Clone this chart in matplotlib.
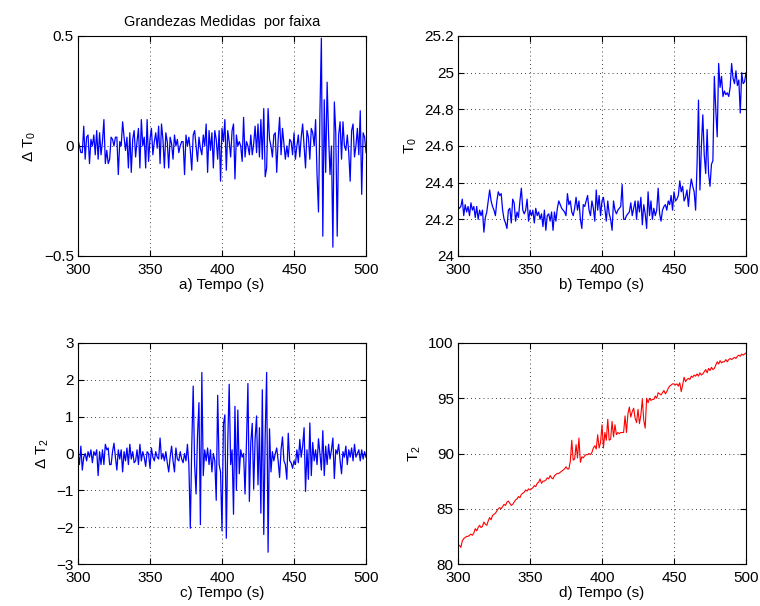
import numpy as np
import matplotlib
matplotlib.use("Agg")
import matplotlib.pyplot as plt

plt.rcParams['font.family'] = ['Liberation Sans', 'DejaVu Sans']
plt.rcParams['font.size'] = 11
plt.rcParams['mathtext.default'] = 'regular'
plt.rcParams['mathtext.fontset'] = 'custom'
plt.rcParams['mathtext.rm'] = 'Liberation Sans'

# tempo (s), 1 amostra por segundo
tempo = np.arange(300, 501)

# a) variacao de T0
dT0 = [0.03, 0.0, -0.03, -0.03, 0.09, -0.06, 0.04, 0.05, -0.08, 0.03,
       0.0, 0.05, -0.04, 0.07, -0.06, 0.06, -0.04, 0.02, 0.12, -0.08,
       -0.02, -0.08, -0.06, 0.04, 0.03, 0.0, 0.04, 0.04, -0.13, 0.02,
       0.0, 0.11, 0.04, -0.02, 0.04, -0.1, 0.06, -0.12, 0.03, 0.07,
       -0.05, 0.02, 0.08, -0.1, 0.12, 0.0, 0.04, -0.1, 0.12, -0.07,
       0.03, 0.08, -0.04, 0.02, 0.06, -0.01, 0.09, -0.08, 0.1, 0.03,
       -0.1, 0.06, 0.02, -0.1, 0.04, 0.01, -0.06, 0.05, 0.0, 0.03,
       -0.03, 0.0, 0.02, 0.02, -0.13, 0.05, 0.0, 0.04, -0.02, -0.11,
       0.05, 0.07, 0.0, -0.07, 0.04, -0.01, -0.04, 0.05, 0.0, 0.1,
       -0.12, 0.07, -0.02, 0.06, -0.1, 0.07, 0.03, -0.06, 0.07, -0.16,
       0.08, 0.02, 0.12, -0.11, 0.07, 0.02, -0.05, 0.07, 0.1, -0.15,
       0.05, 0.0, 0.02, 0.0, -0.07, 0.13, -0.05, 0.02, 0.0, -0.04,
       0.05, -0.04, 0.01, 0.09, -0.03, 0.1, -0.05, 0.12, -0.06, 0.17,
       -0.14, -0.1, 0.17, 0.03, 0.0, -0.05, 0.05, 0.06, -0.12, 0.03,
       0.13, -0.04, 0.08, 0.01, -0.06, 0.0, -0.05, 0.03, 0.02, -0.04,
       0.06, -0.06, 0.0, 0.05, -0.05, 0.04, 0.1, 0.0, -0.1, 0.07,
       0.04, -0.06, 0.08, 0.06, 0.0, 0.12, -0.13, -0.3, 0.15, 0.49,
       -0.41, 0.21, -0.12, 0.29, 0.05, -0.13, 0.0, -0.46, 0.2, 0.06,
       -0.41, 0.05, 0.11, -0.06, 0.11, 0.0, -0.02, 0.05, -0.03, -0.16,
       0.07, 0.1, -0.05, 0.0, 0.08, -0.04, 0.16, -0.22, 0.06, 0.04,
       -0.03]

# b) T0
T0 = [24.27, 24.26, 24.27, 24.31, 24.22, 24.28, 24.24, 24.27, 24.22, 24.29,
      24.25, 24.27, 24.21, 24.27, 24.2, 24.25, 24.22, 24.25, 24.13, 24.21,
      24.24, 24.3, 24.36, 24.3, 24.27, 24.25, 24.22, 24.3, 24.35, 24.33,
      24.34, 24.25, 24.2, 24.18, 24.15, 24.25, 24.26, 24.18, 24.31, 24.29,
      24.19, 24.24, 24.21, 24.3, 24.37, 24.25, 24.23, 24.25, 24.31, 24.19,
      24.25, 24.22, 24.25, 24.18, 24.26, 24.22, 24.24, 24.2, 24.23, 24.16,
      24.25, 24.14, 24.22, 24.23, 24.19, 24.24, 24.14, 24.24, 24.19, 24.26,
      24.3, 24.28, 24.26, 24.25, 24.24, 24.22, 24.34, 24.28, 24.3, 24.24,
      24.22, 24.26, 24.32, 24.25, 24.3, 24.2, 24.15, 24.28, 24.27, 24.3,
      24.33, 24.25, 24.22, 24.3, 24.26, 24.19, 24.36, 24.25, 24.33, 24.22,
      24.3, 24.32, 24.26, 24.19, 24.3, 24.23, 24.2, 24.14, 24.3, 24.25,
      24.23, 24.25, 24.26, 24.27, 24.39, 24.2, 24.2, 24.22, 24.23, 24.24,
      24.29, 24.22, 24.26, 24.3, 24.2, 24.3, 24.24, 24.32, 24.17, 24.28,
      24.23, 24.15, 24.35, 24.22, 24.3, 24.2, 24.26, 24.22, 24.25, 24.37,
      24.23, 24.19, 24.25, 24.27, 24.28, 24.25, 24.3, 24.28, 24.33, 24.25,
      24.35, 24.3, 24.31, 24.33, 24.41, 24.35, 24.38, 24.3, 24.32, 24.36,
      24.27, 24.36, 24.42, 24.38, 24.35, 24.25, 24.5, 24.85, 24.36, 24.6,
      24.77, 24.55, 24.45, 24.69, 24.45, 24.38, 24.5, 24.52, 24.98, 24.8,
      24.65, 25.05, 24.92, 24.98, 24.87, 24.9, 24.88, 24.89, 24.87, 24.92,
      25.05, 24.97, 24.94, 25.01, 24.93, 24.96, 24.78, 25.0, 24.94, 24.95,
      25.0]

# c) variacao de T2
dT2 = [0.0, -0.3, 0.2, -0.45, -0.1, 0.0, -0.2, 0.05, -0.1, 0.1,
       -0.25, 0.05, -0.05, 0.1, -0.6, 0.05, -0.3, 0.1, -0.3, 0.25,
       0.1, 0.15, -0.3, -0.3, 0.05, 0.28, -0.1, -0.45, 0.1, -0.15,
       0.1, -0.5, 0.05, -0.2, 0.15, -0.3, 0.25, -0.15, 0.05, -0.25,
       -0.2, 0.1, -0.3, 0.25, -0.2, 0.05, -0.1, -0.35, 0.05, 0.0,
       -0.4, 0.15, -0.1, -0.2, 0.05, -0.1, -0.15, 0.42, -0.15, 0.0,
       -0.2, 0.05, -0.25, -0.5, -0.1, 0.2, -0.2, -0.5, 0.15, -0.15,
       -0.2, 0.05, -0.15, -0.25, 0.0, -0.2, 0.25, -0.3, -2.03, 0.2,
       1.83, -0.3, -1.1, 0.5, 1.38, -1.93, 2.2, -0.6, 0.1, -0.2,
       0.15, -0.3, 0.1, -0.5, 0.0, -0.2, -1.27, 1.58, -0.3, -0.5,
       -2.1, 0.8, 1.05, -2.3, 0.3, 1.88, -0.3, 0.1, -1.65, 1.28,
       -1.0, 1.18, -0.55, 0.1, -0.1, 0.0, -1.1, 0.3, 1.9, -1.3,
       0.3, 0.82, -0.97, 0.4, 1.02, -0.85, 0.7, -1.62, 1.73, -2.2,
       0.5, 2.2, -2.68, 0.67, -0.5, 0.05, -0.2, 0.0, 0.15, -0.2,
       -0.65, 0.1, 0.45, -0.2, -0.3, -0.7, 0.55, -0.2, -0.25, -0.4,
       -0.2, -0.3, 0.1, -0.25, 0.38, -0.1, 0.2, 0.7, -1.03, 0.1,
       -0.7, 0.83, -0.6, 0.3, -0.2, 0.1, -0.3, 0.4, 0.0, -0.45,
       0.62, -0.6, 0.2, -0.3, 0.25, -0.15, 0.1, 0.42, -0.68, 0.1,
       0.0, 0.25, -0.2, -0.55, 0.05, -0.1, 0.2, -0.3, 0.1, -0.1,
       0.15, -0.2, 0.25, -0.1, 0.0, 0.1, -0.2, 0.1, -0.15, 0.05,
       -0.1]

# d) T2
T2 = [81.6, 81.7, 81.5, 82.1, 82.3, 82.4, 82.5, 82.5, 82.6, 82.7,
      82.6, 82.8, 83.2, 83.0, 83.3, 83.5, 83.3, 83.4, 83.8, 83.6,
      83.5, 83.9, 84.2, 84.0, 84.4, 84.5, 84.6, 84.8, 85.0, 85.1,
      85.0, 85.2, 85.4, 85.3, 85.6, 85.7, 85.5, 85.3, 85.4, 85.6,
      85.8, 85.9, 86.1, 86.0, 86.3, 86.4, 86.5, 86.7, 86.6, 86.8,
      86.7, 86.8, 86.9, 87.1, 87.0, 87.3, 87.4, 87.7, 87.3, 87.5,
      87.5, 87.6, 87.8, 87.7, 88.0, 87.8, 87.7, 88.0, 88.1, 88.2,
      88.2, 88.3, 88.4, 88.5, 88.6, 88.8, 88.6, 88.6, 89.3, 91.2,
      89.4, 89.5, 90.8, 89.6, 91.4, 89.2, 89.7, 89.6, 89.8, 89.9,
      89.9, 90.0, 89.9, 90.1, 90.5, 90.7, 90.4, 91.7, 90.5, 91.0,
      92.6, 90.5, 91.9, 91.2, 93.1, 91.2, 91.3, 92.9, 91.5, 92.6,
      91.7, 91.9, 91.8, 91.9, 91.9, 91.9, 93.4, 91.9, 93.6, 94.2,
      93.3, 93.8, 94.1, 93.2, 92.8, 94.0, 92.7, 93.5, 94.9, 93.0,
      92.3, 95.0, 94.6, 95.0, 94.8, 94.9, 94.9, 95.2, 95.0, 95.5,
      95.4, 95.3, 95.5, 95.7, 95.4, 95.6, 95.9, 96.1, 96.2, 96.3,
      96.3, 96.2, 96.3, 96.1, 96.4, 95.6, 96.2, 96.9, 96.5, 96.7,
      96.8, 96.7, 97.0, 96.9, 97.1, 97.0, 97.2, 97.0, 97.3, 97.1,
      97.2, 97.4, 97.6, 97.3, 97.7, 97.5, 97.8, 97.6, 97.7, 98.0,
      98.3, 98.1, 98.4, 98.2, 98.3, 98.3, 98.5, 98.3, 98.5, 98.6,
      98.5, 98.6, 98.7, 98.6, 98.8, 98.9, 98.8, 99.0, 98.9, 99.0,
      99.1]

xticks = [300, 350, 400, 450, 500]


def estilo(ax, ylim, yticks, xlabel, ylabel):
    ax.set_xlim(300, 500)
    ax.set_ylim(*ylim)
    ax.set_xticks(xticks)
    ax.set_yticks(yticks)
    ax.set_xlabel(xlabel, labelpad=1)
    ax.set_ylabel(ylabel, labelpad=4)
    ax.grid(True, color='black', linestyle=(0, (1, 4)), linewidth=0.6)
    ax.tick_params(direction='in', top=True, right=True, length=4)
    ax.tick_params(axis='x', pad=5)
    ax.tick_params(axis='y', pad=3)
    for s in ax.spines.values():
        s.set_linewidth(0.8)


fig = plt.figure(figsize=(7.6, 6.06), dpi=100)
w, h = 0.379, 0.363
ax1 = fig.add_axes([0.1026, 0.5776, w, h])
ax2 = fig.add_axes([0.6026, 0.5776, w, h])
ax3 = fig.add_axes([0.1026, 0.0693, w, 0.3647])
ax4 = fig.add_axes([0.6026, 0.0693, w, 0.3647])

ax1.plot(tempo, dT0, color='blue', linewidth=0.9)
estilo(ax1, (-0.5, 0.5), [-0.5, 0, 0.5], 'a) Tempo (s)', r'$\Delta$ T$_0$')
ax1.set_yticklabels(['\u22120.5', '0', '0.5'])
ax1.set_title('Grandezas Medidas  por faixa', fontsize=10.5, pad=7)

ax2.plot(tempo, T0, color='blue', linewidth=0.9)
estilo(ax2, (24, 25.2), [24, 24.2, 24.4, 24.6, 24.8, 25, 25.2],
       'b) Tempo (s)', 'T$_0$')
ax2.set_yticklabels(['24', '24.2', '24.4', '24.6', '24.8', '25', '25.2'])

ax3.plot(tempo, dT2, color='blue', linewidth=0.9)
estilo(ax3, (-3, 3), [-3, -2, -1, 0, 1, 2, 3], 'c) Tempo (s)', r'$\Delta$ T$_2$')

ax4.plot(tempo, T2, color='red', linewidth=0.8)
estilo(ax4, (80, 100), [80, 85, 90, 95, 100], 'd) Tempo (s)', 'T$_2$')

fig.savefig('out.png', dpi=100)
